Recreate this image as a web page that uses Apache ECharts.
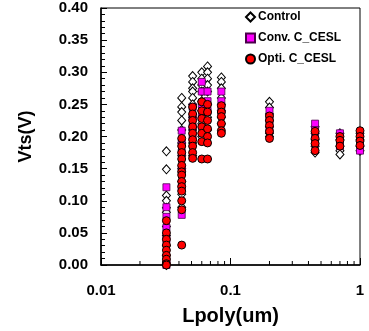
<!DOCTYPE html>
<html>
<head>
<meta charset="utf-8">
<script src="https://cdn.jsdelivr.net/npm/echarts@6/dist/echarts.min.js"></script>
<style>
  html, body { margin: 0; padding: 0; background: #fff; }
  #chart { width: 369px; height: 331px; }
</style>
</head>
<body>
<div id="chart"></div>
<script>
// Lpoly (um) of each measured column
var lpoly = [0.032, 0.042, 0.051, 0.06, 0.0665, 0.085, 0.2, 0.45, 0.7, 1.0]

// Vts (V) per column, one list per Lpoly value
var controlVts = [
  [0.177, 0.149, 0.108, 0.1, 0.089, 0.082, 0.06, 0.046, 0.03, 0.015, 0.0],
  [0.26, 0.246, 0.238, 0.225, 0.21, 0.19, 0.17, 0.15, 0.13, 0.11, 0.09],
  [0.294, 0.285, 0.275, 0.27, 0.26, 0.25, 0.23, 0.21, 0.19, 0.17],
  [0.3, 0.29, 0.28, 0.27, 0.255, 0.24, 0.22, 0.2],
  [0.309, 0.3, 0.29, 0.28, 0.27, 0.25, 0.23, 0.21],
  [0.292, 0.285, 0.275, 0.26, 0.25, 0.24, 0.23, 0.22],
  [0.254, 0.245, 0.235, 0.225, 0.215, 0.205, 0.2],
  [0.215, 0.205, 0.195, 0.185, 0.175],
  [0.205, 0.195, 0.185, 0.178, 0.172],
  [0.205, 0.195, 0.185, 0.178]
]
var convVts = [
  [0.121, 0.09, 0.075, 0.058, 0.04, 0.005, 0.0],
  [0.209, 0.19, 0.175, 0.15, 0.12, 0.078],
  [0.246, 0.23, 0.215, 0.2],
  [0.285, 0.27, 0.25, 0.23],
  [0.27, 0.255, 0.24],
  [0.27, 0.255, 0.24],
  [0.24, 0.225, 0.21],
  [0.22, 0.21, 0.2, 0.19],
  [0.205, 0.195, 0.185],
  [0.2, 0.19, 0.178]
]
var optiVts = [
  [0.069, 0.05, 0.04, 0.031, 0.023, 0.015, 0.009, 0.002, 0.0],
  [0.197, 0.185, 0.175, 0.165, 0.155, 0.145, 0.14, 0.13, 0.122, 0.115, 0.1, 0.086, 0.031],
  [0.246, 0.235, 0.225, 0.215, 0.205, 0.195, 0.185, 0.175, 0.166],
  [0.254, 0.24, 0.228, 0.215, 0.205, 0.192, 0.165],
  [0.25, 0.238, 0.225, 0.212, 0.2, 0.19, 0.165],
  [0.248, 0.238, 0.231, 0.22, 0.209, 0.205],
  [0.232, 0.225, 0.217, 0.208, 0.197],
  [0.208, 0.197, 0.189, 0.178],
  [0.2, 0.194, 0.185],
  [0.209, 0.2, 0.193, 0.186]
]

// log minor tick positions on the x axis
var xMinorTicks = [0.02, 0.03, 0.04, 0.05, 0.06, 0.07, 0.08, 0.09,
  0.2, 0.3, 0.4, 0.5, 0.6, 0.7, 0.8, 0.9]

function toPoints(cols) {
  var pts = []
  for (var i = 0; i < lpoly.length; i++) {
    for (var j = 0; j < cols[i].length; j++) {
      pts.push([lpoly[i], cols[i][j]])
    }
  }
  return pts
}

var font = 'Arial, "Liberation Sans", sans-serif'
var chart = echarts.init(document.getElementById('chart'))

chart.setOption({
  animation: false,
  textStyle: { fontFamily: font },
  grid: {
    left: 101,
    right: 9,
    top: 8,
    bottom: 63,
    show: true,
    borderColor: '#000',
    borderWidth: 1
  },
  legend: {
    data: ['Control', 'Conv. C_CESL', 'Opti. C_CESL'],
    orient: 'vertical',
    left: 245,
    top: 11,
    padding: 0,
    itemGap: 9,
    itemWidth: 9,
    itemHeight: 9,
    textStyle: { fontSize: 12, fontWeight: 'bold', color: '#000', fontFamily: font, padding: [0, 0, 0, -2] }
  },
  xAxis: {
    type: 'log',
    logBase: 10,
    min: 0.01,
    max: 1,
    name: 'Lpoly(um)',
    nameLocation: 'middle',
    nameGap: 41,
    nameTextStyle: { fontSize: 20, fontWeight: 'bold', color: '#000', fontFamily: font },
    axisLine: { lineStyle: { color: '#000', width: 1.5 } },
    axisTick: { inside: true, length: 7, lineStyle: { color: '#000' } },
    axisLabel: {
      color: '#000',
      fontSize: 15,
      fontWeight: 'bold',
      margin: 18,
      formatter: function (v) { return String(+v.toPrecision(3)) }
    },
    splitLine: { show: false }
  },
  yAxis: {
    type: 'value',
    min: 0,
    max: 0.4,
    interval: 0.05,
    name: 'Vts(V)',
    nameLocation: 'middle',
    nameGap: 66,
    nameTextStyle: { fontSize: 18, fontWeight: 'bold', color: '#000', fontFamily: font },
    axisLine: { lineStyle: { color: '#000', width: 1.5 } },
    axisTick: { inside: true, length: 6, lineStyle: { color: '#000' } },
    minorTick: { show: true, splitNumber: 5, length: 4, lineStyle: { color: '#000' } },
    axisLabel: {
      color: '#000',
      fontSize: 15,
      fontWeight: 'bold',
      margin: 13,
      formatter: function (v) { return v.toFixed(2) }
    },
    splitLine: { show: false }
  },
  series: [
    {
      name: 'Control',
      type: 'scatter',
      symbol: 'diamond',
      symbolSize: [8, 9],
      itemStyle: { color: '#fff', borderColor: '#000', borderWidth: 1, opacity: 1 },
      data: toPoints(controlVts),
      z: 2
    },
    {
      name: 'Conv. C_CESL',
      type: 'scatter',
      symbol: 'rect',
      symbolSize: 7,
      itemStyle: { color: '#ff00ff', borderColor: '#4b004b', borderWidth: 0.8, opacity: 1 },
      data: toPoints(convVts),
      z: 3
    },
    {
      name: 'Opti. C_CESL',
      type: 'scatter',
      symbol: 'circle',
      symbolSize: 8,
      itemStyle: { color: '#ff0000', borderColor: '#000', borderWidth: 1, opacity: 1 },
      data: toPoints(optiVts),
      z: 4
    },
    {
      type: 'custom',
      silent: true,
      clip: false,
      data: xMinorTicks,
      encode: { x: 0 },
      renderItem: function (params, api) {
        var p = api.coord([api.value(0), 0])
        return {
          type: 'line',
          shape: { x1: p[0], y1: p[1], x2: p[0], y2: p[1] - 4 },
          style: { stroke: '#000', lineWidth: 1 }
        }
      },
      z: 5
    }
  ]
})
</script>
</body>
</html>
